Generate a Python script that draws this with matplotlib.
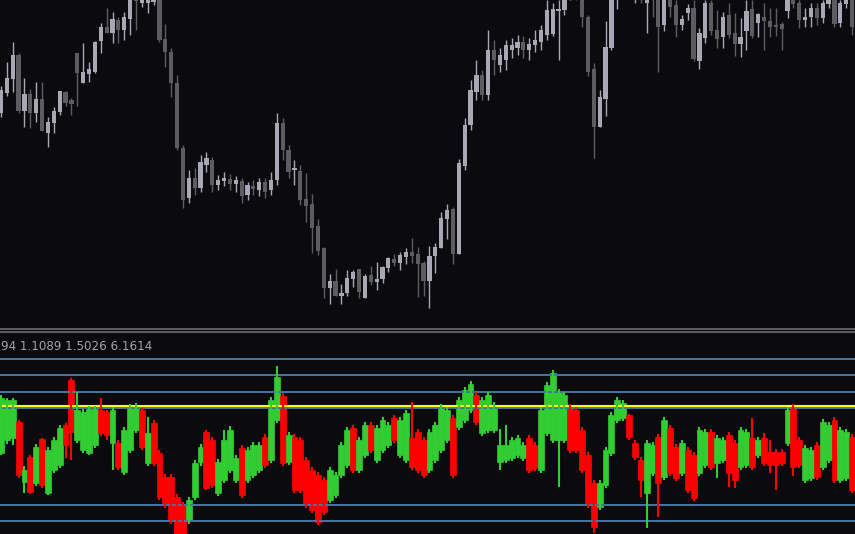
import numpy as np
import matplotlib
matplotlib.use("Agg")
import matplotlib.pyplot as plt
from matplotlib.lines import Line2D

# price candles (screen points, larger = lower price)
px_open = [113, 93, 79, 55, 111, 94, 113, 99, 133, 123,
           112, 92, 100, 53, 83, 74, 72, 41, 27, 33,
           20, 30, 19, -5, 3, 3, 2, -3, 39, 52,
           83, 148, 198, 178, 188, 165, 160, 185, 181, 179,
           184, 181, 195, 186, 190, 182, 190, 180, 123, 150,
           170, 171, 199, 204, 226, 248, 288, 281, 296, 293,
           279, 269, 298, 275, 282, 279, 268, 259, 263, 257,
           252, 254, 263, 281, 256, 248, 219, 209, 254, 166,
           125, 92, 75, 95, 50, 65, 60, 50, 48, 42,
           50, 45, 42, 35, 34, 11, 10, -5, -10, -3,
           17, 69, 127, 99, 48, 0, -10, -15, -12, -15,
           3, -5, -3, 25, 0, 5, 25, 13, 8, 61,
           38, 3, 30, 37, 15, 33, 44, 31, 9, 23,
           17, 21, 25, 24, 11, 0, 3, 20, 17, 8,
           18, 4, 0, 23, 4, 0]
px_close = [90, 78, 55, 111, 94, 113, 99, 131, 122, 111,
            91, 103, 104, 73, 72, 69, 42, 27, 33, 19,
            30, 17, -5, 1, -3, -4, -3, 40, 52, 83,
            148, 200, 178, 188, 162, 158, 185, 180, 178, 184,
            180, 196, 185, 189, 182, 192, 180, 123, 150, 172,
            168, 200, 206, 228, 251, 288, 281, 296, 293, 278,
            272, 292, 276, 282, 279, 267, 258, 263, 255, 252,
            256, 264, 281, 256, 247, 218, 210, 254, 163, 125,
            90, 75, 95, 50, 60, 55, 45, 45, 42, 50,
            44, 40, 30, 10, 9, 9, -5, -10, -5, 17,
            72, 127, 97, 47, 0, -10, -15, -12, -15, -10,
            -5, -3, 27, 0, 7, 25, 19, 8, 59, 33,
            3, 31, 39, 17, 35, 44, 37, 11, 36, 14,
            21, 27, 27, 29, 0, 4, 20, 17, 8, 18,
            3, 0, 24, 3, 0, 27]
px_high = [86, 62, 42, 53, 78, 89, 82, 82, 117, 107,
           91, 91, 98, 53, 43, 62, 41, 23, 8, 12,
           17, 12, -10, -10, -8, -8, -8, -8, 24, 48,
           75, 145, 170, 168, 155, 152, 157, 175, 172, 174,
           176, 178, 182, 180, 178, 178, 172, 113, 118, 145,
           160, 165, 173, 194, 219, 247, 274, 269, 284, 270,
           270, 269, 274, 266, 262, 266, 257, 254, 252, 248,
           238, 247, 261, 246, 243, 212, 204, 207, 159, 118,
           80, 60, 70, 30, 40, 48, 40, 38, 35, 36,
           38, 30, 25, 0, 3, 0, -10, -15, -15, -10,
           15, 63, 90, 21, -5, -15, -20, -20, -20, -20,
           -10, -10, -10, -5, -5, 0, 15, 4, 0, 28,
           0, 0, 10, 12, 3, 13, 18, 0, 0, 13,
           3, 8, 8, 22, -5, -5, 0, 8, 3, 3,
           0, -5, -5, 0, -5, -5]
px_low = [117, 96, 92, 113, 127, 128, 122, 131, 147, 133,
          115, 106, 115, 106, 83, 82, 73, 53, 33, 43,
          43, 40, 35, 30, 7, 13, 5, 42, 67, 97,
          150, 208, 203, 195, 192, 172, 192, 190, 186, 190,
          192, 203, 200, 195, 196, 198, 195, 185, 160, 178,
          185, 205, 222, 253, 255, 298, 304, 296, 304, 296,
          287, 298, 298, 285, 290, 283, 272, 266, 270, 264,
          263, 297, 296, 308, 273, 248, 239, 264, 254, 170,
          130, 100, 100, 100, 75, 72, 70, 58, 55, 58,
          60, 52, 50, 40, 36, 60, 15, 0, 0, 27,
          76, 158, 127, 116, 50, 9, -3, -5, 3, 3,
          33, 17, 72, 31, 17, 37, 30, 20, 61, 69,
          43, 35, 48, 48, 38, 56, 57, 50, 38, 37,
          50, 37, 36, 50, 18, 8, 28, 27, 27, 25,
          23, 8, 27, 27, 8, 35]

# indicator candles
ind_top = [398, 400, 400, 422, 470, 457, 447, 439, 450, 440,
           428, 425, 380, 410, 412, 409, 409, 410, 412, 410,
           443, 430, 406, 405, 410, 433, 423, 453, 477, 477,
           497, 505, 500, 463, 447, 432, 440, 462, 440, 430,
           458, 448, 450, 445, 445, 437, 400, 377, 396, 435,
           437, 440, 460, 470, 475, 480, 470, 475, 445, 430,
           428, 440, 425, 425, 428, 420, 425, 418, 420, 413,
           438, 432, 440, 432, 425, 407, 410, 418, 400, 390,
           384, 395, 400, 395, 405, 445, 445, 440, 438, 445,
           438, 445, 410, 385, 373, 392, 395, 407, 410, 430,
           455, 483, 483, 450, 415, 400, 403, 415, 443, 460,
           443, 445, 437, 420, 428, 447, 443, 450, 455, 430,
           432, 432, 438, 440, 435, 443, 430, 432, 438, 440,
           438, 452, 452, 452, 410, 407, 440, 448, 450, 445,
           422, 425, 420, 430, 432, 437]
ind_bot = [453, 440, 438, 475, 482, 492, 483, 485, 493, 470,
           465, 445, 432, 440, 450, 453, 445, 433, 435, 443,
           467, 472, 450, 430, 447, 463, 463, 497, 505, 520,
           538, 540, 520, 497, 462, 488, 485, 493, 480, 470,
           480, 495, 480, 475, 470, 465, 460, 420, 463, 462,
           490, 490, 505, 510, 522, 512, 500, 495, 475, 465,
           470, 470, 455, 450, 460, 450, 445, 440, 455, 460,
           467, 470, 475, 470, 460, 450, 440, 475, 427, 420,
           410, 422, 433, 430, 430, 462, 460, 458, 455, 458,
           470, 468, 470, 433, 440, 440, 440, 450, 450, 470,
           505, 527, 507, 485, 453, 420, 418, 437, 457, 480,
           493, 473, 483, 477, 473, 478, 473, 490, 498, 473,
           465, 467, 463, 460, 473, 480, 467, 465, 467, 455,
           463, 465, 465, 463, 443, 467, 465, 480, 478, 477,
           467, 460, 480, 480, 478, 490]
ind_hi = [395, 398, 398, 420, 466, 455, 444, 438, 447, 437,
          425, 423, 378, 392, 409, 406, 406, 398, 410, 407,
          440, 427, 404, 403, 408, 417, 420, 450, 474, 474,
          494, 502, 497, 460, 444, 430, 437, 459, 430, 426,
          455, 445, 447, 442, 442, 434, 397, 366, 393, 432,
          434, 437, 457, 467, 472, 477, 467, 472, 442, 427,
          425, 437, 422, 422, 425, 417, 422, 415, 417, 410,
          402, 429, 437, 429, 422, 404, 407, 415, 397, 387,
          381, 392, 397, 392, 402, 429, 425, 437, 435, 442,
          435, 442, 407, 382, 370, 389, 392, 404, 407, 427,
          452, 480, 480, 447, 412, 397, 400, 414, 440, 457,
          440, 442, 434, 417, 425, 444, 440, 447, 452, 427,
          429, 429, 435, 437, 432, 440, 427, 429, 418, 437,
          433, 440, 449, 449, 407, 404, 437, 445, 447, 442,
          419, 422, 417, 427, 429, 434]
ind_lo = [455, 444, 445, 478, 493, 494, 486, 488, 495, 473,
          468, 458, 460, 443, 453, 455, 448, 436, 440, 470,
          470, 475, 453, 433, 450, 466, 466, 500, 508, 524,
          540, 545, 524, 500, 466, 490, 488, 496, 483, 473,
          483, 498, 483, 478, 473, 468, 463, 423, 466, 465,
          493, 493, 508, 513, 525, 515, 503, 498, 478, 468,
          473, 473, 458, 453, 463, 453, 448, 443, 458, 463,
          470, 473, 478, 473, 463, 453, 443, 478, 430, 423,
          413, 425, 436, 433, 433, 470, 463, 461, 458, 461,
          473, 471, 473, 436, 443, 487, 443, 453, 453, 473,
          508, 533, 510, 488, 456, 423, 421, 440, 460, 497,
          528, 476, 517, 480, 476, 481, 476, 493, 501, 476,
          468, 470, 478, 463, 487, 488, 470, 468, 470, 458,
          466, 473, 490, 466, 446, 476, 468, 483, 481, 480,
          470, 463, 483, 483, 481, 493]
ind_dir = ("GGGRGRGRGG" "GRRGGGGRRG" "RGGGRGRRRR" "RRGGGRRGGG" "GRGGGRGGRG"
           "RRRRRRGGGG" "RGGRGGGRGG" "RRRGGGGRGG" "GRGGGGGGGG" "RRGGGGGRRR"
           "RRGGGGGRRR" "GGRGRRGRRG" "GRGGRRGGRG" "RRRRGRRGGR" "GGRGGR")

blue_levels = [358.5, 375, 391.5, 408, 504.5, 520.5]
yellow_level = 406
legend_text = "94 1.1089 1.5026 6.1614"

bg = '#0a0a0f'
light = '#a8a8b4'
dark = '#5c5c61'

fig = plt.figure(figsize=(8.55, 5.34), dpi=100, facecolor=bg)

# main price panel
ax = fig.add_axes([0, 206 / 534, 1, 328 / 534])
ax.set_facecolor(bg)
n = len(px_open)
x = np.arange(n)
o = np.array(px_open)
c = np.array(px_close)
up = c < o
cols = np.where(up, light, dark)
ax.vlines(x, px_high, px_low, colors=cols, lw=1.0)
ax.bar(x, np.maximum(np.abs(o - c), 1), bottom=np.minimum(o, c), width=0.72,
       color=cols, edgecolor='none')
ax.set_xlim(-0.17, 145.5)
ax.set_ylim(328, 0)
ax.axis('off')

# indicator panel
ax2 = fig.add_axes([0, 0, 1, 201 / 534])
ax2.set_facecolor(bg)
for lv in blue_levels:
    ax2.axhline(lv, color='#45769f', lw=1.4)
ax2.axhline(yellow_level, color='#ffff00', lw=1.5)
t = np.array(ind_top)
b = np.array(ind_bot)
icol = ['#32cd32' if d == 'G' else '#ff0000' for d in ind_dir]
ax2.vlines(x, ind_hi, ind_lo, colors=icol, lw=1.5)
ax2.bar(x, b - t, bottom=t, width=1.0, color=icol, edgecolor=icol, lw=0.5)
ax2.set_xlim(-0.17, 145.5)
ax2.set_ylim(534, 333)
ax2.axis('off')

# panel separator
for yy in (329, 332):
    fig.add_artist(Line2D([0, 1], [1 - yy / 534, 1 - yy / 534], transform=fig.transFigure,
                          color='#6c6c6e', lw=1.2))

fig.text(1 / 855, 1 - 346 / 534, legend_text, color='#a4a4a4', fontsize=8.6,
         ha='left', va='center')

fig.savefig('out.png', dpi=100, facecolor=bg)
